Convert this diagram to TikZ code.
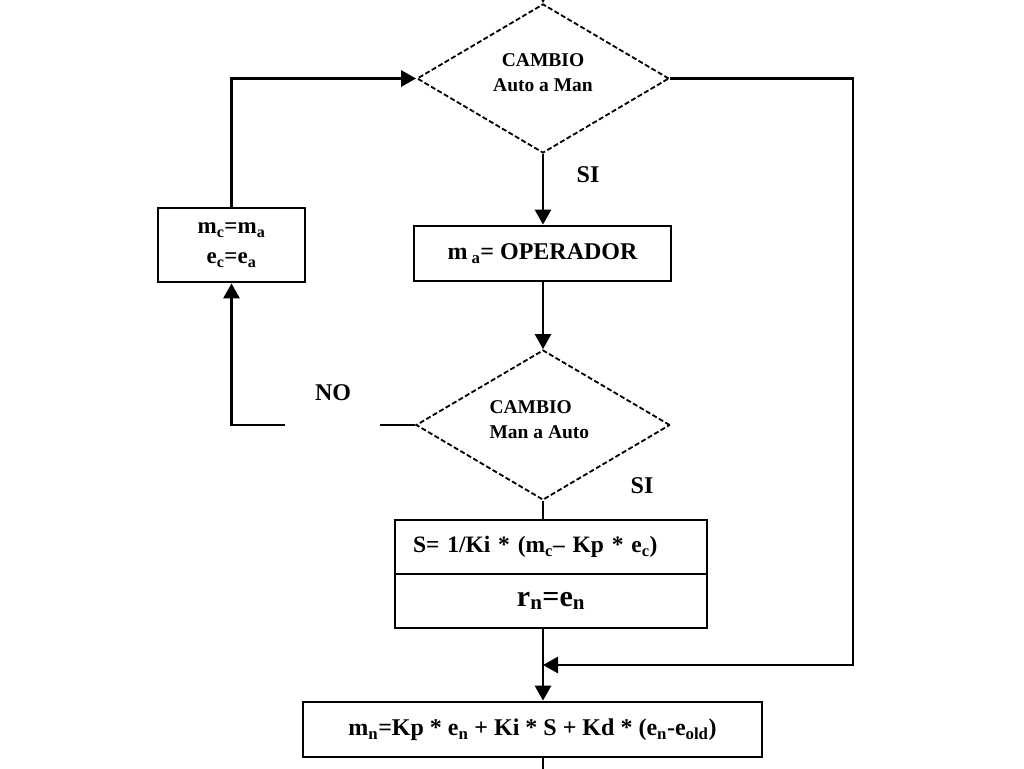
\documentclass[tikz,border=0pt]{standalone}
\usepackage{fontspec}
\setmainfont{Liberation Serif}
\usetikzlibrary{shapes.geometric,arrows.meta}
\tikzset{
  conn/.style={line width=2.8pt},
  arr/.style={line width=2.8pt,-{Triangle[length=15pt,width=16pt]}},
  boxnode/.style={draw,line width=2.8pt,rectangle,inner sep=0pt,align=center},
  decis/.style={draw,line width=1.8pt,dash pattern=on 5pt off 2.5pt,diamond,inner sep=0pt},
  fbig/.style={font=\fontsize{24}{29}\selectfont\bfseries},
  fmid/.style={font=\fontsize{23}{30}\selectfont\bfseries},
  fsmall/.style={font=\fontsize{19.5}{25}\selectfont\bfseries},
}
\begin{document}
\begin{tikzpicture}[x=1pt,y=-1pt]
\useasboundingbox (0,0) rectangle (1024,768);
\fill[white] (0,0) rectangle (1024,768);
% decisions
\node[decis,minimum width=252pt,minimum height=149pt] (d1) at (543,78.5) {};
\node[fsmall,align=center] (d1t) at (543,72.5) {CAMBIO\\Auto a Man};
\node[decis,minimum width=254pt,minimum height=150pt] (d2) at (543,425) {};
\node[fsmall,align=left,anchor=west] (d2t) at (486,420) {CAMBIO\\Man a Auto};
% boxes
\node[boxnode,fmid,minimum width=147pt,minimum height=74pt] (lb) at (231.5,245) {m\textsubscript{c}=m\textsubscript{a}\\e\textsubscript{c}=e\textsubscript{a}};
\node[boxnode,fbig,minimum width=257pt,minimum height=55pt] (ob) at (542.5,253.5) {m\,\textsubscript{a}= OPERADOR};
\node[boxnode,font=\fontsize{23.5}{26}\selectfont\bfseries,minimum width=312pt,minimum height=54pt,align=left,text width=276pt] (sb1) at (551,547) {S= 1/Ki * (m\textsubscript{c}– Kp * e\textsubscript{c})};
\node[boxnode,font=\fontsize{30}{34}\selectfont\bfseries,minimum width=312pt,minimum height=54pt] (sb2) at (551,601) {r\textsubscript{n}=e\textsubscript{n}};
\node[boxnode,fbig,minimum width=459pt,minimum height=55pt] (mb) at (532.5,729.5) {m\textsubscript{n}=Kp * e\textsubscript{n} + Ki * S + Kd * (e\textsubscript{n}-e\textsubscript{old})};
% labels
\node[fbig] (si1) at (588,175) {SI};
\node[fbig] (si2) at (642,486) {SI};
\node[fbig] (no) at (333,393) {NO};
% coordinates
\coordinate (top) at (543,-14);
\coordinate (bot) at (543,775);
\coordinate (rc) at (853,665);
\coordinate (m1) at (543,665);
\coordinate (noA) at (380,425);
\coordinate (noB) at (285,425);
% connectors
\draw[arr] (top) -- (d1.north);
\draw[arr] (d1.south) -- (ob.north -| d1.south);
\draw[arr] (ob.south -| d1.south) -- (d2.north);
\draw[conn] (d2.south) -- (sb1.north -| d2.south);
\draw[conn] (d2.west) -- (noA);
\draw[arr] (noB) -| (lb.south);
\draw[arr] (lb.north) |- (d1.west);
\draw[arr] (d1.east) -| (rc) -- (m1);
\draw[arr] (sb2.south -| d2.south) -- (mb.north -| d2.south);
\draw[conn] (mb.south -| bot) -- (bot);
\end{tikzpicture}
\end{document}
